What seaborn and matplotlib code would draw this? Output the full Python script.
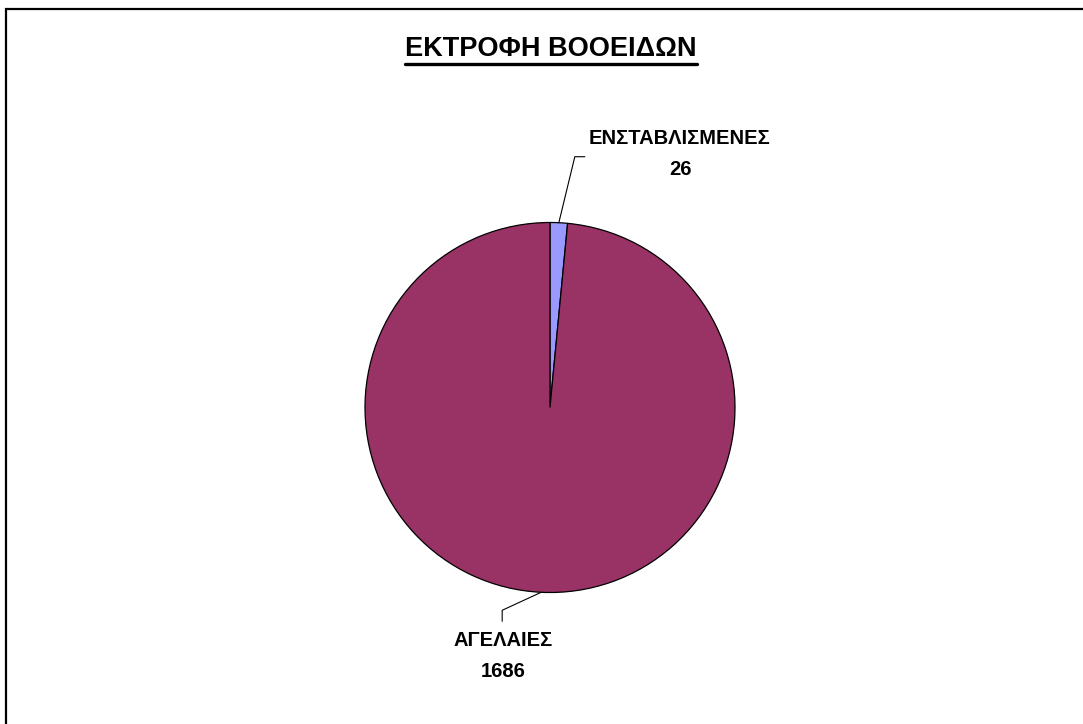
import numpy as np
import matplotlib
matplotlib.use("Agg")
import matplotlib.pyplot as plt
from matplotlib.patches import Rectangle
from matplotlib.lines import Line2D
import seaborn as sns

# Cattle farming: housed vs. herd-grazed
categories = ["ΕΝΣΤΑΒΛΙΣΜΕΝΕΣ", "ΑΓΕΛΑΙΕΣ"]
values = [26, 1686]
colors = ["#9999FF", "#993366"]
title = "ΕΚΤΡΟΦΗ ΒΟΟΕΙΔΩΝ"

sns.set_theme(style="white")
plt.rcParams["font.family"] = ["Liberation Sans", "DejaVu Sans"]

W, H = 1083, 724
fig = plt.figure(figsize=(W / 100, H / 100), dpi=100)
fig.patch.set_facecolor("white")
ax = fig.add_axes([0, 0, 1, 1])

def py(y):
    """Convert a top-down pixel row to the y-up axis coordinate."""
    return H - y

cx, cy, r = 550, py(407.5), 185
wedges, _ = ax.pie(values, colors=colors, startangle=90, counterclock=False,
                   center=(cx, cy), radius=r, frame=True,
                   wedgeprops=dict(edgecolor="black", linewidth=0.9))
ax.set_xlim(0, W)
ax.set_ylim(0, H)
ax.set_aspect("equal")
ax.axis("off")

# leader layout per wedge: elbow offset from the rim, end offset, text centre
layout = [
    dict(elbow=(16, 66), end=(26, 66), text=(680, 154)),
    dict(elbow=(-39, -18), end=(-39, -29), text=(503, 656)),
]
for w, cat, val, lay in zip(wedges, categories, values, layout):
    mid = np.deg2rad((w.theta1 + w.theta2) / 2)
    ax_, ay_ = cx + r * np.cos(mid), cy + r * np.sin(mid)
    ex, ey = ax_ + lay["elbow"][0], ay_ + lay["elbow"][1]
    fx, fy = ax_ + lay["end"][0], ay_ + lay["end"][1]
    ax.plot([ax_, ex, fx], [ay_, ey, fy], color="black", linewidth=0.8,
            solid_joinstyle="miter")
    ax.text(lay["text"][0], py(lay["text"][1]), f"{cat}\n{val}",
            ha="center", va="center", fontsize=14.5, fontweight="bold",
            linespacing=1.85, color="black")

# title with underline
t = fig.text(551 / W, 1 - 49 / H, title, ha="center", va="center",
             fontsize=19.5, fontweight="bold", color="black")
fig.canvas.draw()
bb = t.get_window_extent(renderer=fig.canvas.get_renderer())
uy = 1 - 63.5 / H
fig.add_artist(Line2D([bb.x0 / W, bb.x1 / W], [uy, uy], color="black",
                      linewidth=2.4, transform=fig.transFigure))

# outer frame
fig.add_artist(Rectangle((6 / W, -10 / H), (W + 10) / W, (H + 10 - 9) / H,
                         transform=fig.transFigure, fill=False,
                         edgecolor="black", linewidth=1.6))

fig.savefig("out.png", dpi=100, facecolor="white")
